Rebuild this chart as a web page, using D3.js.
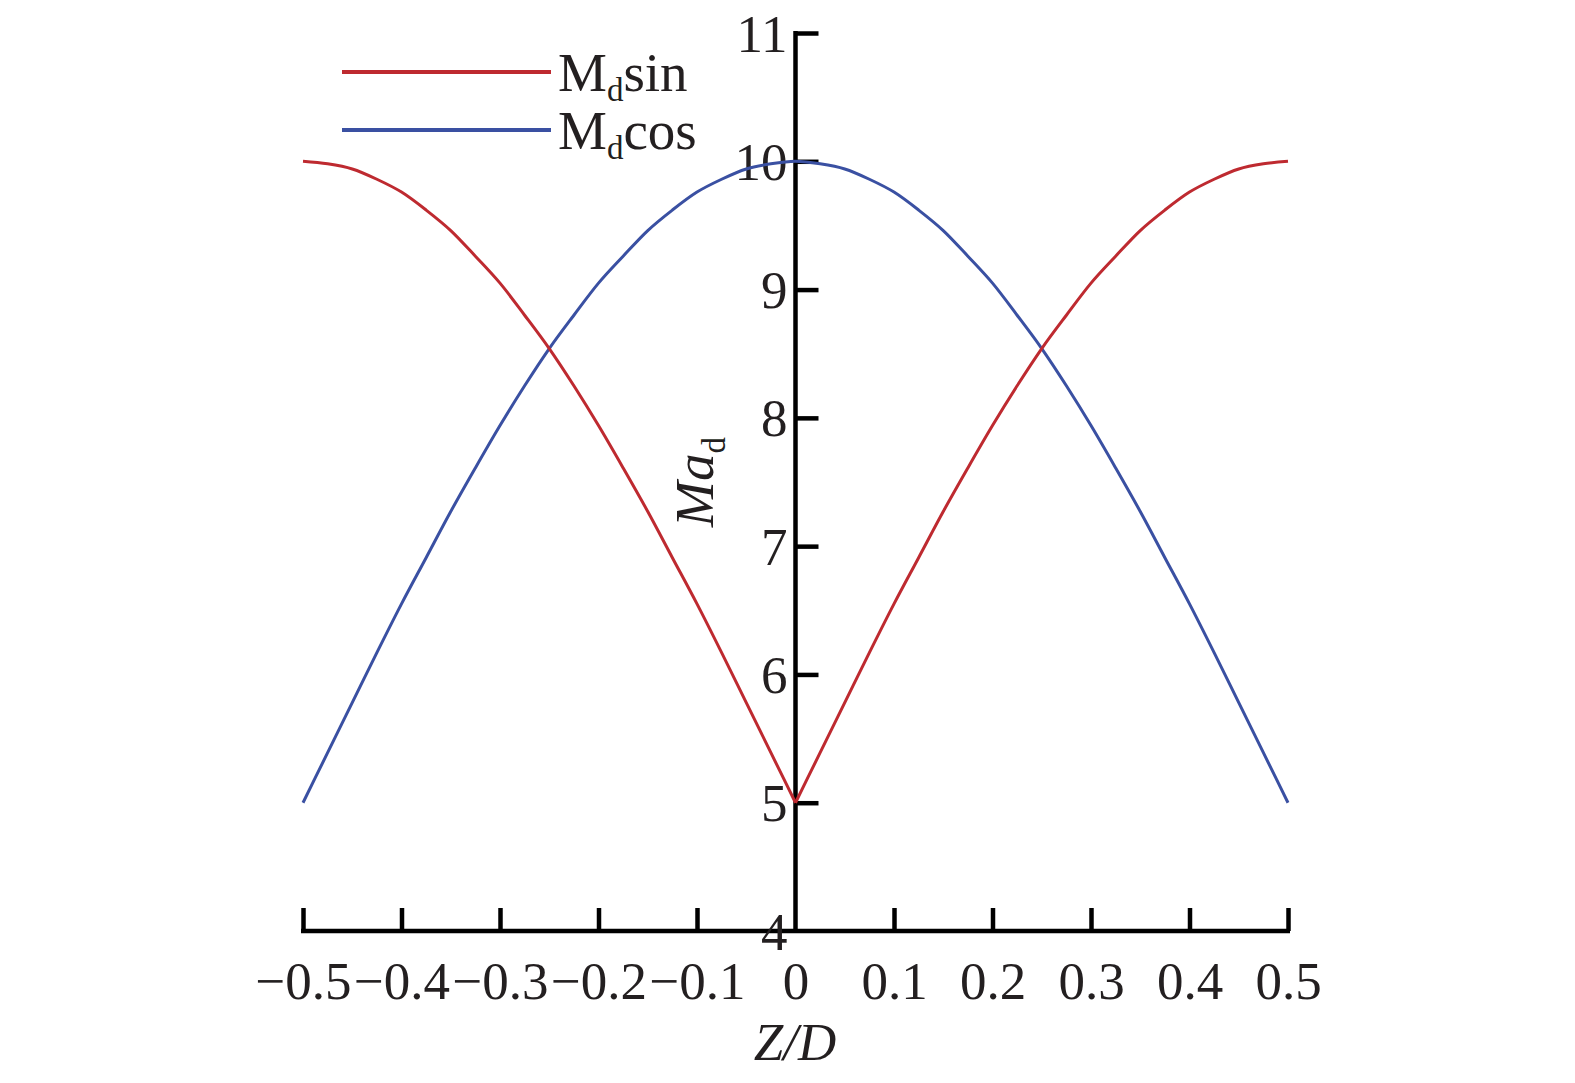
<!DOCTYPE html>
<html><head><meta charset="utf-8">
<script src="https://cdn.jsdelivr.net/npm/d3@7"></script>
<style>body{margin:0;background:#fff}</style>
</head><body>
<svg id="c" width="1575" height="1083"></svg>
<script>
const zd = [-0.5,-0.475,-0.45,-0.425,-0.4,-0.375,-0.35,-0.325,-0.3,-0.275,-0.25,-0.225,-0.2,-0.175,-0.15,-0.125,-0.1,-0.075,-0.05,-0.025,0,
  0.025,0.05,0.075,0.1,0.125,0.15,0.175,0.2,0.225,0.25,0.275,0.3,0.325,0.35,0.375,0.4,0.425,0.45,0.475,0.5];
const mdSin = [10,9.98,9.94,9.86,9.76,9.62,9.46,9.26,9.05,8.80,8.54,8.25,7.94,7.61,7.27,6.91,6.55,6.17,5.78,5.39,5,
  5.39,5.78,6.17,6.55,6.91,7.27,7.61,7.94,8.25,8.54,8.80,9.05,9.26,9.46,9.62,9.76,9.86,9.94,9.98,10];
const mdCos = [5,5.39,5.78,6.17,6.55,6.91,7.27,7.61,7.94,8.25,8.54,8.80,9.05,9.26,9.46,9.62,9.76,9.86,9.94,9.98,10,
  9.98,9.94,9.86,9.76,9.62,9.46,9.26,9.05,8.80,8.54,8.25,7.94,7.61,7.27,6.91,6.55,6.17,5.78,5.39,5];
const xTicks = [-0.5,-0.4,-0.3,-0.2,-0.1,0,0.1,0.2,0.3,0.4,0.5];
const yTicks = [4,5,6,7,8,9,10,11];
const seriesNames = ["sin","cos"];

const svg = d3.select("#c");
const font = "'Liberation Serif','Times New Roman',serif";
const x = d3.scaleLinear().domain([-0.5,0.5]).range([303,1288]);
const y = d3.scaleLinear().domain([4,11]).range([931,33]);

// x axis
const xa = svg.append("g").attr("transform",`translate(0,${y(4)})`)
  .call(d3.axisBottom(x).tickValues(xTicks).tickSize(-23).tickPadding(0)
    .tickFormat(d => d===0 ? "0" : (d<0 ? "\u2212" : "") + Math.abs(d).toFixed(1)));
xa.select(".domain").remove();
xa.append("line").attr("x1",x(-0.5)-2).attr("x2",x(0.5)+2).attr("stroke","#000").attr("stroke-width",4.5);
xa.selectAll(".tick line").attr("stroke","#000").attr("stroke-width",4.5);
xa.selectAll(".tick").filter(d=>d===0).select("line").remove();
xa.selectAll(".tick text").attr("font-family",font).attr("font-size",53).attr("fill","#231f20")
  .attr("dy",null).attr("y",68);

// y axis
const ya = svg.append("g").attr("transform",`translate(${x(0)},0)`)
  .call(d3.axisLeft(y).tickValues(yTicks).tickSize(-23).tickPadding(0).tickFormat(d3.format("d")));
ya.select(".domain").remove();
ya.append("line").attr("y1",y(4)).attr("y2",y(11)-2).attr("stroke","#000").attr("stroke-width",4.5);
ya.selectAll(".tick line").attr("stroke","#000").attr("stroke-width",4.5);
ya.selectAll(".tick").filter(d=>d===4).select("line").remove();
ya.selectAll(".tick text").attr("font-family",font).attr("font-size",53).attr("fill","#231f20")
  .attr("x",-8).attr("dy","0.34em");

// lines
const colors = {sin:"#be2a30", cos:"#3a50a2"};
const cosData = zd.map((z,i)=>[z,mdCos[i]]);
const sinData = zd.map((z,i)=>[z,mdSin[i]]);
const line = d3.line().x(d=>x(d[0])).y(d=>y(d[1])).curve(d3.curveMonotoneX);
svg.append("path").datum(cosData).attr("d",line).attr("fill","none").attr("stroke",colors.cos).attr("stroke-width",3);
// sin curve has a cusp at Z/D = 0: draw each side separately
[sinData.filter(d=>d[0]<=0), sinData.filter(d=>d[0]>=0)].forEach(seg=>{
  svg.append("path").datum(seg).attr("d",line).attr("fill","none").attr("stroke",colors.sin)
    .attr("stroke-width",3).attr("stroke-linejoin","miter");
});

// legend
seriesNames.forEach((s,i)=>{
  const ly = 72 + i*58;
  svg.append("line").attr("x1",342).attr("x2",551).attr("y1",ly).attr("y2",ly)
    .attr("stroke",colors[s]).attr("stroke-width",4);
  const t = svg.append("text").attr("x",558).attr("y",ly+19).attr("font-family",font)
    .attr("font-size",55).attr("fill","#231f20");
  t.append("tspan").text("M");
  t.append("tspan").text("d").attr("font-size",33).attr("dy",10);
  t.append("tspan").text(s).attr("dy",-10);
});

// axis titles
const yl = svg.append("text").attr("transform","translate(713,482) rotate(-90)")
  .attr("text-anchor","middle").attr("font-family",font).attr("font-size",55).attr("fill","#231f20");
yl.append("tspan").text("Ma").attr("font-style","italic");
yl.append("tspan").text("d").attr("font-size",33).attr("dy",12);

svg.append("text").attr("x",795).attr("y",1060).attr("text-anchor","middle")
  .attr("font-family",font).attr("font-size",53).attr("font-style","italic").attr("fill","#231f20").text("Z/D");
</script>
</body></html>
